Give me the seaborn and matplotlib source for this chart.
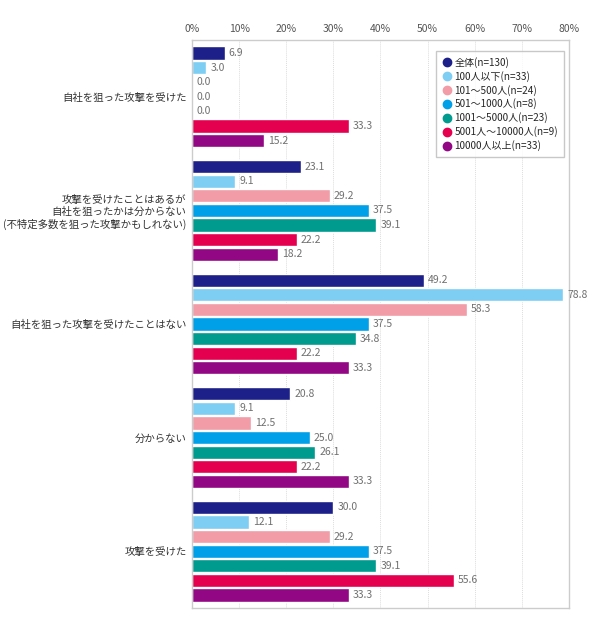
#!/usr/bin/env python3
import matplotlib
matplotlib.use("Agg")
import matplotlib.pyplot as plt
import numpy as np
import pandas as pd
import seaborn as sns
from matplotlib.lines import Line2D

categories = [
    "自社を狙った攻撃を受けた",
    "攻撃を受けたことはあるが\n自社を狙ったかは分からない\n(不特定多数を狙った攻撃かもしれない)",
    "自社を狙った攻撃を受けたことはない",
    "分からない",
    "攻撃を受けた",
]

series = [
    "全体(n=130)",
    "100人以下(n=33)",
    "101～500人(n=24)",
    "501～1000人(n=8)",
    "1001～5000人(n=23)",
    "5001人～10000人(n=9)",
    "10000人以上(n=33)",
]

# one list per series, in category order
v_all = [6.9, 23.1, 49.2, 20.8, 30.0]
v_100 = [3.0, 9.1, 78.8, 9.1, 12.1]
v_500 = [0.0, 29.2, 58.3, 12.5, 29.2]
v_1000 = [0.0, 37.5, 37.5, 25.0, 37.5]
v_5000 = [0.0, 39.1, 34.8, 26.1, 39.1]
v_10000 = [33.3, 22.2, 22.2, 22.2, 55.6]
v_over = [15.2, 18.2, 33.3, 33.3, 33.3]

colors = ["#1d2088", "#7ecef4", "#f19ca7", "#00a0e9", "#009b8f", "#e5004f", "#920783"]

values = [v_all, v_100, v_500, v_1000, v_5000, v_10000, v_over]
df = pd.DataFrame([
    {"category": c, "group": s, "value": vals[i]}
    for s, vals in zip(series, values)
    for i, c in enumerate(categories)
])

sns.set_style("white")
plt.rcParams["font.family"] = ["Noto Sans CJK JP", "DejaVu Sans"]

fig = plt.figure(figsize=(5.9, 6.35), dpi=100)
ax = fig.add_axes([0.3254, 0.0425, 0.9644 - 0.3254, 0.937 - 0.0425])

sns.barplot(data=df, y="category", x="value", hue="group", order=categories,
            hue_order=series, palette=colors, orient="h", width=0.9, gap=0.1,
            errorbar=None, legend=False, ax=ax, saturation=1)

for cont in ax.containers:
    ax.bar_label(cont, fmt="%.1f", padding=3, fontsize=7.5, color="#707070")

ax.set_xlim(0, 80)
ax.set_xticks(np.arange(0, 81, 10))
ax.set_xticklabels([f"{t}%" for t in range(0, 81, 10)])
ax.xaxis.tick_top()
ax.tick_params(axis="x", length=0, labelsize=7.5, colors="#555555", pad=4)
ax.tick_params(axis="y", length=0, labelsize=7.5, colors="#333333", pad=4)
ax.set_xlabel("")
ax.set_ylabel("")
ax.grid(axis="x", color="#dddddd", linestyle=(0, (1, 1)), linewidth=0.7)
ax.set_axisbelow(True)
for sp in ax.spines.values():
    sp.set_color("#cccccc")
    sp.set_linewidth(1)

handles = [Line2D([], [], marker="o", linestyle="none", markersize=6,
                  markerfacecolor=c, markeredgecolor=c) for c in colors]
leg = ax.legend(handles, series, loc="upper right", bbox_to_anchor=(0.987, 0.981),
                borderaxespad=0, fontsize=7.2, frameon=True, fancybox=False,
                handletextpad=0.2, labelspacing=0.3, borderpad=0.6, handlelength=1.0)
leg.get_frame().set_edgecolor("#bbbbbb")
leg.get_frame().set_linewidth(1)

fig.savefig("out.png", dpi=100)
